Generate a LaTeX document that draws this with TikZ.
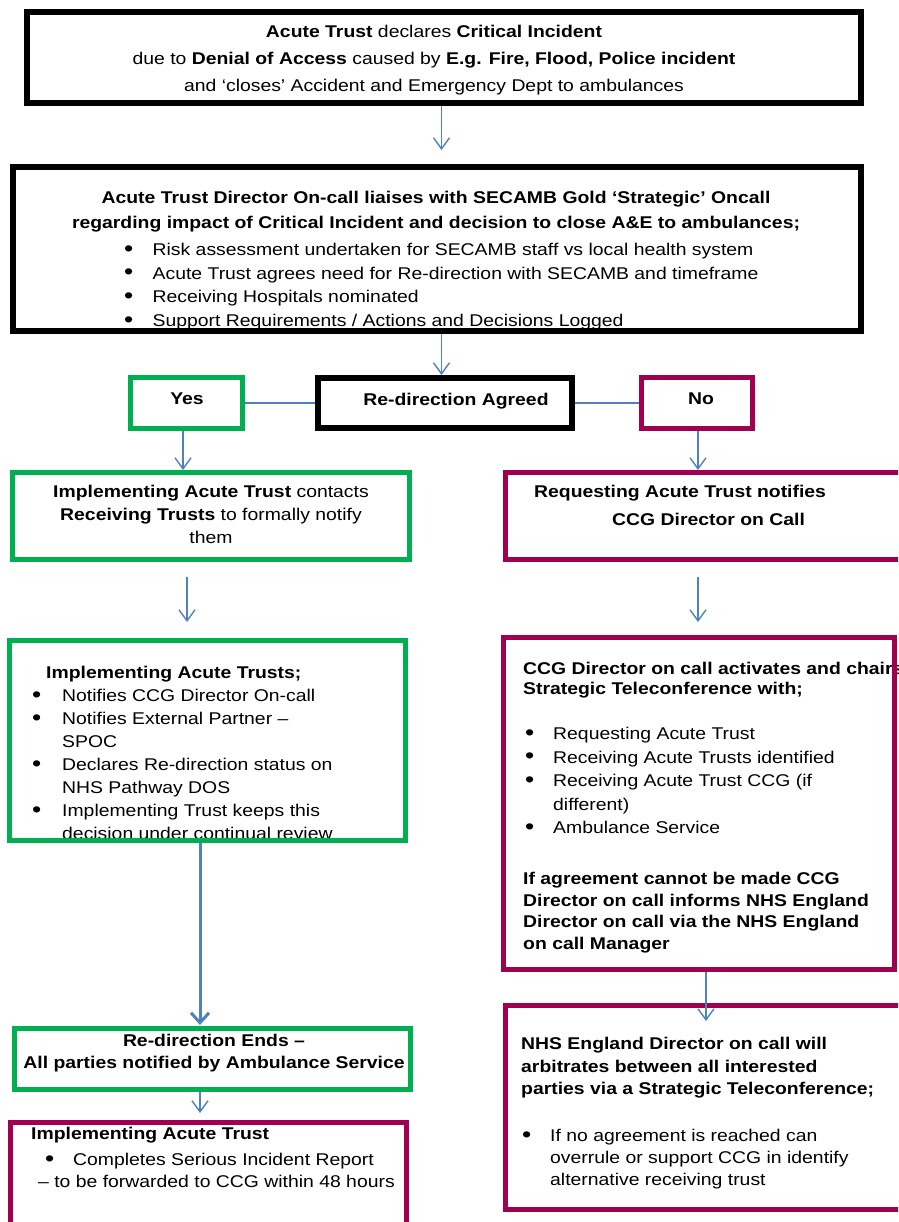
\documentclass[tikz,border=0pt]{standalone}
\usepackage{fontspec}
\setmainfont{Liberation Sans}[FakeStretch=1.14]
\usetikzlibrary{arrows.meta}
\definecolor{boxgreen}{RGB}{0,176,80}
\definecolor{boxmaroon}{RGB}{160,0,80}
\definecolor{arrowblue}{RGB}{79,129,189}
\newcommand\mybul[1]{\makebox[#1][l]{\raisebox{-0.6pt}{\fontsize{23}{0}\selectfont •}}}
\begin{document}
\begin{tikzpicture}[x=1pt,y=-1pt,
  box/.style={draw=#1, rectangle, inner sep=0pt},
  blackbox/.style={box=black, line width=6pt},
  greenbox/.style={box=boxgreen, line width=5pt},
  maroonbox/.style={box=boxmaroon, line width=5pt},
  arr/.style={draw=arrowblue, line width=1.4pt, -{Straight Barb[length=11pt,width=16pt]}},
  bigarr/.style={draw=arrowblue, line width=3pt, -{Straight Barb[length=10pt,width=18pt]}},
  link/.style={draw=arrowblue, line width=2.2pt},
  txt/.style={inner sep=0pt, align=left, anchor=north west},
  ctxt/.style={inner sep=0pt, align=center, anchor=north}]
\useasboundingbox (0,0) rectangle (898,1222);
\clip (0,0) rectangle (898,1222);
\fill[white] (0,0) rectangle (898,1222);

% ---------- texts ----------
\node[ctxt, font=\fontsize{17}{27}\selectfont] (t1) at (434,25)
  {\textbf{Acute Trust} declares \textbf{Critical Incident}\\
   due to \textbf{Denial of Access} caused by \textbf{E.g. Fire, Flood, Police incident}\\
   and ‘closes’ Accident and Emergency Dept to ambulances};
\node[ctxt, font=\bfseries\fontsize{17}{25}\selectfont] (t2a) at (436,191)
  {Acute Trust Director On-call liaises with SECAMB Gold ‘Strategic’ Oncall\\
   regarding impact of Critical Incident and decision to close A\&E to ambulances;};
\node[txt, font=\fontsize{17}{23.7}\selectfont] (t2b) at (124,243)
  {\mybul{28.5pt}Risk assessment undertaken for SECAMB staff vs local health system\\
   \mybul{28.5pt}Acute Trust agrees need for Re-direction with SECAMB and timeframe\\
   \mybul{28.5pt}Receiving Hospitals nominated\\
   \mybul{28.5pt}Support Requirements / Actions and Decisions Logged};
\node[ctxt, font=\bfseries\fontsize{17}{23}\selectfont] (tyes) at (187,393) {Yes};
\node[ctxt, font=\bfseries\fontsize{17}{23}\selectfont] (tra) at (456,393) {Re-direction Agreed};
\node[ctxt, font=\bfseries\fontsize{17}{23}\selectfont] (tno) at (701,393) {No};
\node[ctxt, font=\fontsize{17}{23}\selectfont] (tl1) at (211,485)
  {\textbf{Implementing Acute Trust} contacts\\
   \textbf{Receiving Trusts} to formally notify\\
   them};
\node[txt, font=\bfseries\fontsize{17}{28}\selectfont] (tr1) at (534,485)
  {Requesting Acute Trust notifies\\
   \hspace*{78pt}CCG Director on Call};
\node[txt, font=\fontsize{17}{23}\selectfont] (tl2) at (32,666)
  {\hspace*{14pt}\textbf{Implementing Acute Trusts;}\\
   \mybul{30pt}Notifies CCG Director On-call\\
   \mybul{30pt}Notifies External Partner –\\
   \hspace*{30pt}SPOC\\
   \mybul{30pt}Declares Re-direction status on\\
   \hspace*{30pt}NHS Pathway DOS\\
   \mybul{30pt}Implementing Trust keeps this\\
   \hspace*{30pt}decision under continual review};
\node[txt, font=\bfseries\fontsize{17}{20}\selectfont] (tr2a) at (523,662)
  {CCG Director on call activates and chairs\\
   Strategic Teleconference with;};
\node[txt, font=\fontsize{17}{23.5}\selectfont] (tr2b) at (525,727)
  {\mybul{28pt}Requesting Acute Trust\\
   \mybul{28pt}Receiving Acute Trusts identified\\
   \mybul{28pt}Receiving Acute Trust CCG (if\\
   \hspace*{28pt}different)\\
   \mybul{28pt}Ambulance Service};
\node[txt, font=\bfseries\fontsize{17}{21.7}\selectfont] (tr2c) at (523,872)
  {If agreement cannot be made CCG\\
   Director on call informs NHS England\\
   Director on call via the NHS England\\
   on call Manager};
\node[ctxt, font=\bfseries\fontsize{17}{22}\selectfont] (tl3) at (214,1034)
  {Re-direction Ends –\\
   All parties notified by Ambulance Service};
\node[txt, font=\fontsize{17}{22}\selectfont] (tl4) at (31,1127)
  {\textbf{Implementing Acute Trust}\\[4pt]
   \hspace*{14pt}\mybul{28pt}Completes Serious Incident Report\\
   \hspace*{7pt}– to be forwarded to CCG within 48 hours};
\node[txt, font=\bfseries\fontsize{17}{22.5}\selectfont] (tr3a) at (521,1037)
  {NHS England Director on call will\\
   arbitrates between all interested\\
   parties via a Strategic Teleconference;};
\node[txt, font=\fontsize{17}{22}\selectfont] (tr3b) at (522,1129)
  {\mybul{28pt}If no agreement is reached can\\
   \hspace*{28pt}overrule or support CCG in identify\\
   \hspace*{28pt}alternative receiving trust};

% ---------- boxes ----------
\node[blackbox, minimum width=834pt, minimum height=91pt] (b1) at (444,57.5) {};
\node[blackbox, minimum width=848pt, minimum height=164pt] (b2) at (437,249) {};
\node[greenbox, minimum width=112pt, minimum height=51pt] (yes) at (186.5,403) {};
\node[blackbox, minimum width=254pt, minimum height=50pt] (ra) at (445,403) {};
\node[maroonbox, minimum width=111pt, minimum height=51pt] (no) at (697,403) {};
\node[greenbox, minimum width=397pt, minimum height=87pt] (l1) at (211,516) {};
\node[maroonbox, minimum width=424.5pt, minimum height=87pt] (r1) at (717.75,516) {};
\node[greenbox, minimum width=396pt, minimum height=200pt] (l2) at (207.5,740.5) {};
\node[maroonbox, minimum width=391pt, minimum height=332pt] (r2) at (699,803.5) {};
\node[greenbox, minimum width=396pt, minimum height=61pt] (l3) at (212.5,1059) {};
\node[maroonbox, minimum width=396pt, minimum height=117.5pt] (l4) at (208.5,1181.25) {};
\node[maroonbox, minimum width=424.5pt, minimum height=204pt] (r3) at (717.75,1107.5) {};

% ---------- connectors ----------
\coordinate (a1e) at (441.5,150);
\draw[arr] (b1.south -| a1e) -- (a1e);
\coordinate (a2e) at (441.5,375);
\draw[arr] (b2.south -| a2e) -- (a2e);
\draw[link] (yes.east) -- (ra.west);
\draw[link] (ra.east) -- (no.west);
\coordinate (a3e) at (183,470);
\draw[arr] (yes.south -| a3e) -- (a3e);
\coordinate (a4e) at (698,470);
\draw[arr] (no.south -| a4e) -- (a4e);
\coordinate (a5s) at (187,577);
\coordinate (a5e) at (187,622);
\draw[arr] (a5s) -- (a5e);
\coordinate (a6s) at (698,577);
\coordinate (a6e) at (698,622);
\draw[arr] (a6s) -- (a6e);
\coordinate (a7e) at (200,1025);
\draw[bigarr] (l2.south -| a7e) -- (a7e);
\coordinate (a8e) at (200,1113);
\draw[arr] (l3.south -| a8e) -- (a8e);
\coordinate (a9e) at (706,1021);
\draw[arr] (r2.south -| a9e) -- (a9e);
\end{tikzpicture}
\end{document}
